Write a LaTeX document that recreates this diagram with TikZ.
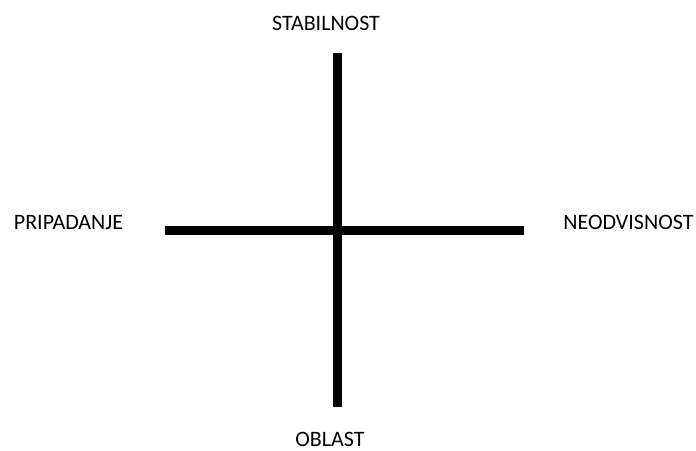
\documentclass[tikz,border=0pt]{standalone}
\usepackage{fontspec}
\setmainfont{Carlito}
\begin{document}
\begin{tikzpicture}[x=1pt,y=-1pt,
  axisline/.style={line width=9pt,line cap=butt,black},
  lbl/.style={anchor=base,inner sep=0pt,font=\fontsize{22}{26}\selectfont}]
\useasboundingbox (0,0) rectangle (696,450);
\coordinate (top) at (337,53);
\coordinate (bot) at (337,407);
\coordinate (lft) at (165,230);
\coordinate (rgt) at (524,230);
\draw[axisline] (top) -- (bot);
\draw[axisline] (lft) -- (rgt);
\node[lbl] (s) at (326,30.5) {STABILNOST};
\node[lbl] (p) at (68.5,229) {PRIPADANJE};
\node[lbl] (n) at (628.5,229) {NEODVISNOST};
\node[lbl] (o) at (330,446) {OBLAST};
\end{tikzpicture}
\end{document}
